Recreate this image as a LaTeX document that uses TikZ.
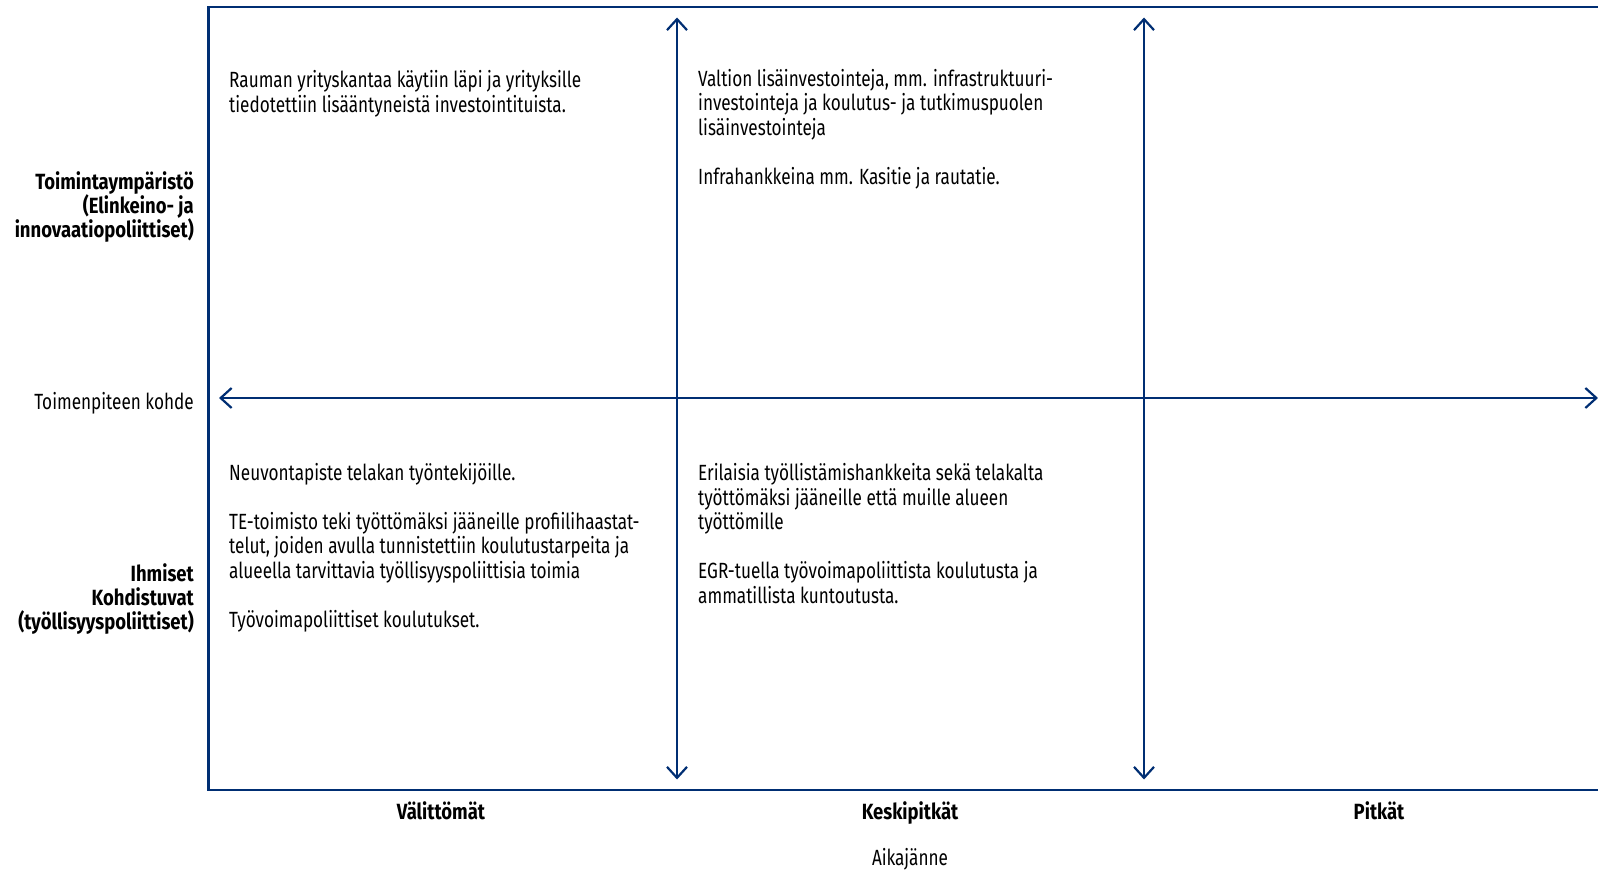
\documentclass[tikz,border=0pt]{standalone}
\usepackage{fontspec}
\setmainfont{Fira Sans}[FakeStretch=0.78, BoldFeatures={FakeStretch=0.84}]
\usetikzlibrary{arrows.meta}
\definecolor{navy}{RGB}{0,46,115}
\begin{document}
\begin{tikzpicture}[x=1pt,y=-1pt,
  txt/.style={font=\fontsize{22}{24.5}\selectfont, align=left, anchor=base west, inner sep=0pt},
  lbl/.style={font=\fontsize{22}{24}\selectfont\bfseries, align=right, anchor=base east, inner sep=0pt},
  plain/.style={font=\fontsize{22}{24}\selectfont, inner sep=0pt},
  axisline/.style={draw=navy, line width=2.2pt},
  dbl/.style={axisline, {Straight Barb[length=11pt,width=20pt,line width=2.2pt]}-{Straight Barb[length=11pt,width=20pt,line width=2.2pt]}}
]
\useasboundingbox (0,0) rectangle (1598,872);
% frame
\coordinate (ftr) at (1600,7);
\coordinate (ftl) at (208.5,7);
\coordinate (fbl) at (208.5,790);
\coordinate (fbr) at (1600,790);
\draw[axisline] (ftr) -- (ftl) -- (fbl) -- (fbr);
% axes
\coordinate (v1t) at (677,17.5);
\coordinate (v1b) at (677,779.5);
\coordinate (v2t) at (1144,17.5);
\coordinate (v2b) at (1144,779.5);
\coordinate (hl) at (219,398);
\coordinate (hr) at (1598,398);
\draw[dbl] (v1b) -- (v1t);
\draw[dbl] (v2b) -- (v2t);
\draw[dbl] (hl) -- (hr);
% cell texts (anchor base = baseline of last line)
\node[txt] (tl) at (229,112.5) {Rauman yrityskantaa käytiin läpi ja yrityksille\\tiedotettiin lisääntyneistä investointituista.};
\node[txt] (tm) at (698,184.5) {Valtion lisäinvestointeja, mm. infrastruktuuri-\\investointeja ja koulutus- ja tutkimuspuolen\\lisäinvestointeja\\[24.5pt]Infrahankkeina mm. Kasitie ja rautatie.};
\node[txt] (bl) at (229,627) {Neuvontapiste telakan työntekijöille.\\[24.5pt]TE-toimisto teki työttömäksi jääneille profiilihaastat-\\telut, joiden avulla tunnistettiin koulutustarpeita ja\\alueella tarvittavia työllisyyspoliittisia toimia\\[24.5pt]Työvoimapoliittiset koulutukset.};
\node[txt] (bm) at (698,603) {Erilaisia työllistämishankkeita sekä telakalta\\työttömäksi jääneille että muille alueen\\työttömille\\[24.5pt]EGR-tuella työvoimapoliittista koulutusta ja\\ammatillista kuntoutusta.};
% row labels
\node[lbl] (r1) at (194,237) {Toimintaympäristö\\(Elinkeino- ja\\innovaatiopoliittiset)};
\node[plain, anchor=base east] (mid) at (194,409.5) {Toimenpiteen kohde};
\node[lbl] (r2) at (194,629.5) {Ihmiset\\Kohdistuvat\\(työllisyyspoliittiset)};
% column labels
\node[plain, font=\fontsize{22}{24}\selectfont\bfseries, anchor=base] (c1) at (441,819.5) {Välittömät};
\node[plain, font=\fontsize{22}{24}\selectfont\bfseries, anchor=base] (c2) at (910,819.5) {Keskipitkät};
\node[plain, font=\fontsize{22}{24}\selectfont\bfseries, anchor=base] (c3) at (1379,819.5) {Pitkät};
\node[plain, anchor=base] (ax) at (910,865.5) {Aikajänne};
\end{tikzpicture}
\end{document}
